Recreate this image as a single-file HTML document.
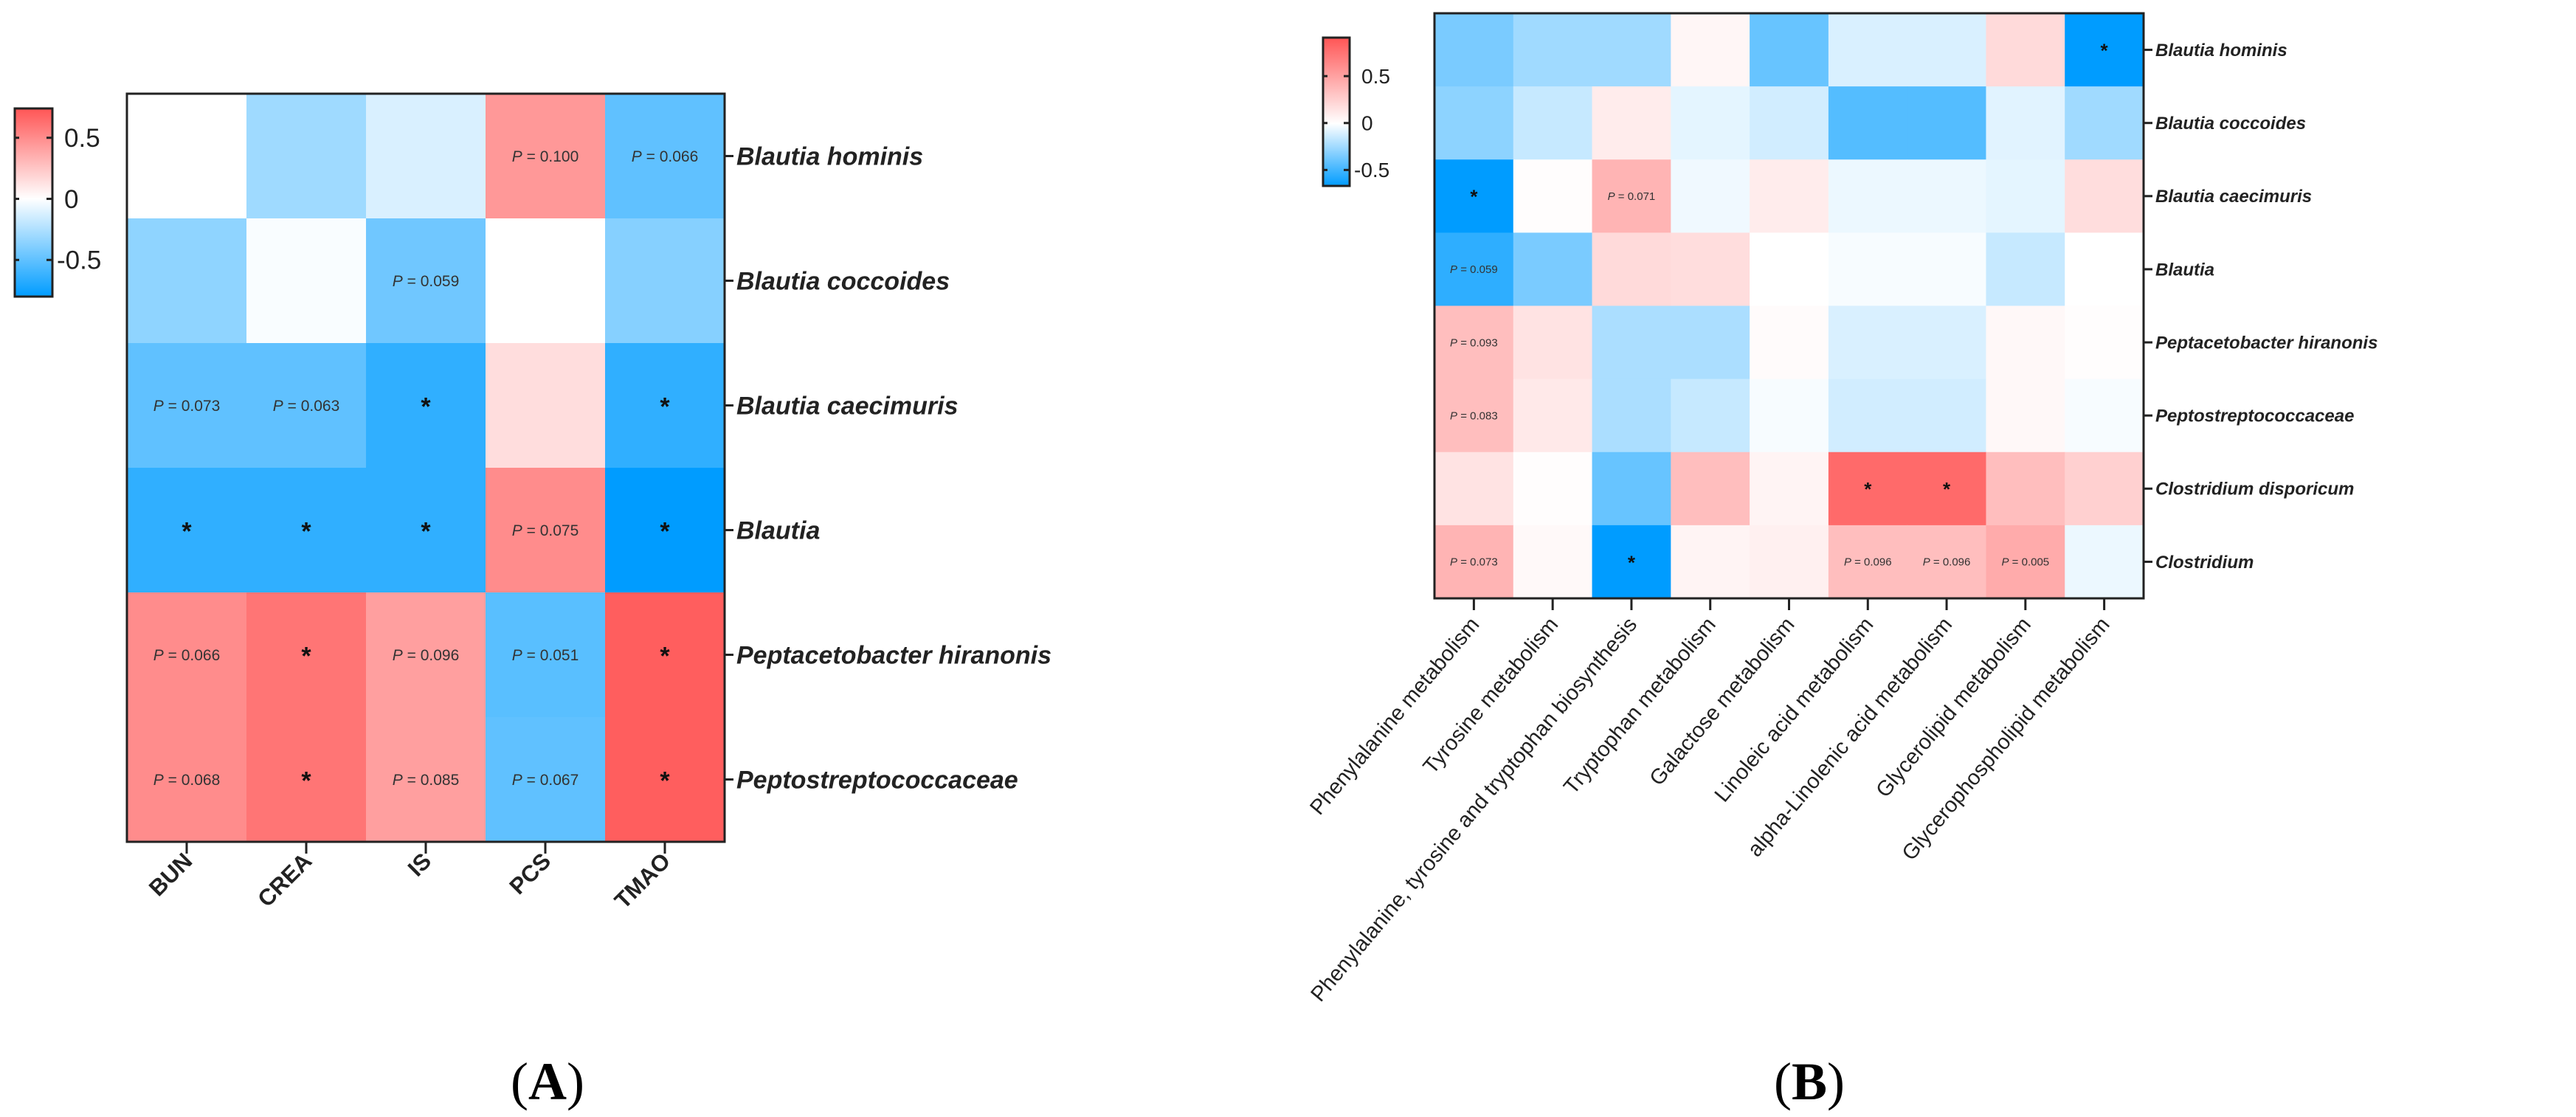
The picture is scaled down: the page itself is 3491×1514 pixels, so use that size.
<!DOCTYPE html>
<html><head><meta charset="utf-8"><style>
html,body{margin:0;padding:0;background:#fff;}
svg{display:block;}
text{font-family:"Liberation Sans",Arial,sans-serif;}
</style></head><body>
<svg id="fig" width="3491" height="1514" viewBox="0 0 3491 1514" xmlns="http://www.w3.org/2000/svg">
<defs>
<linearGradient id="gA" x1="0" y1="1" x2="0" y2="0">
<stop offset="0" stop-color="#009cff"/><stop offset="0.52" stop-color="#ffffff"/><stop offset="1" stop-color="#ff5555"/>
</linearGradient>
<linearGradient id="gB" x1="0" y1="1" x2="0" y2="0">
<stop offset="0" stop-color="#009cff"/><stop offset="0.42" stop-color="#ffffff"/><stop offset="1" stop-color="#ff5555"/>
</linearGradient>
</defs>
<g id="panelA"></g>
<g id="panelB"></g>
<text x="742" y="1490" font-size="72" text-anchor="middle" style="font-family:'Liberation Serif',serif">(<tspan font-weight="bold">A</tspan>)</text>
<text x="2452" y="1490" font-size="72" text-anchor="middle" style="font-family:'Liberation Serif',serif">(<tspan font-weight="bold">B</tspan>)</text>
</svg>
<script>
const aCols = ["BUN","CREA","IS","PCS","TMAO"];
const aRows = ["Blautia hominis","Blautia coccoides","Blautia caecimuris","Blautia","Peptacetobacter hiranonis","Peptostreptococcaceae"];
const aVals = [
 [0,-0.3,-0.12,0.45,-0.5],
 [-0.35,-0.02,-0.45,0,-0.38],
 [-0.5,-0.5,-0.65,0.15,-0.65],
 [-0.65,-0.65,-0.65,0.5,-0.8],
 [0.5,0.6,0.42,-0.52,0.7],
 [0.5,0.6,0.42,-0.5,0.7]];
const aNotes = [
 ["","","","P = 0.100","P = 0.066"],
 ["","","P = 0.059","",""],
 ["P = 0.073","P = 0.063","*","","*"],
 ["*","*","*","P = 0.075","*"],
 ["P = 0.066","*","P = 0.096","P = 0.051","*"],
 ["P = 0.068","*","P = 0.085","P = 0.067","*"]];
const aTicks = [0.5,0,-0.5];

const bCols = ["Phenylalanine metabolism","Tyrosine metabolism","Phenylalanine, tyrosine and tryptophan biosynthesis","Tryptophan metabolism","Galactose metabolism","Linoleic acid metabolism","alpha-Linolenic acid metabolism","Glycerolipid metabolism","Glycerophospholipid metabolism"];
const bRows = ["Blautia hominis","Blautia coccoides","Blautia caecimuris","Blautia","Peptacetobacter hiranonis","Peptostreptococcaceae","Clostridium disporicum","Clostridium"];
const bVals = [
 [-0.35,-0.25,-0.25,0.05,-0.4,-0.1,-0.1,0.2,-0.67],
 [-0.3,-0.15,0.1,-0.07,-0.12,-0.45,-0.45,-0.08,-0.25],
 [-0.67,0.01,0.4,-0.04,0.1,-0.05,-0.05,-0.07,0.18],
 [-0.55,-0.35,0.2,0.18,0,-0.02,-0.02,-0.15,0],
 [0.35,0.15,-0.22,-0.22,0.02,-0.1,-0.1,0.04,0.01],
 [0.35,0.12,-0.22,-0.15,-0.02,-0.12,-0.12,0.04,-0.02],
 [0.15,0.01,-0.4,0.35,0.06,0.8,0.8,0.35,0.25],
 [0.4,0.03,-0.67,0.06,0.08,0.35,0.35,0.45,-0.05]];
const bNotes = [
 ["","","","","","","","","*"],
 ["","","","","","","","",""],
 ["*","","P = 0.071","","","","","",""],
 ["P = 0.059","","","","","","","",""],
 ["P = 0.093","","","","","","","",""],
 ["P = 0.083","","","","","","","",""],
 ["","","","","","*","*","",""],
 ["P = 0.073","","*","","","P = 0.096","P = 0.096","P = 0.005",""]];
const bTicks = [0.5,0,-0.5];

const NS="http://www.w3.org/2000/svg";
function mk(tag,attrs,parent,txt){const e=document.createElementNS(NS,tag);for(const k in attrs)e.setAttribute(k,attrs[k]);if(txt!==undefined)e.textContent=txt;parent.appendChild(e);return e;}
function mix(a,b,t){return [0,1,2].map(i=>Math.round(a[i]+(b[i]-a[i])*t));}
function color(v,vmin,vmax){const W=[255,255,255],R=[255,85,85],B=[0,156,255];let c;
 if(v>=0)c=mix(W,R,Math.min(1,v/vmax));else c=mix(W,B,Math.min(1,v/vmin));return `rgb(${c[0]},${c[1]},${c[2]})`;}

function heatmap(g,cfg){
 const {x0,y0,x1,y1,cols,rows,vals,notes,vmin,vmax,noteSize,starSize,rowFont,colFont,colBold,colAngle,colDy,cb,ticks,grad,tickFont}=cfg;
 const cw=(x1-x0)/cols.length, rh=(y1-y0)/rows.length;
 const xs=i=>x0+i*cw, ys=j=>y0+j*rh;
 rows.forEach((r,j)=>cols.forEach((c,i)=>{
   const rect=mk('rect',{x:xs(i),y:ys(j),width:cw+0.5,height:rh+0.5,fill:color(vals[j][i],vmin,vmax)},g);
   
   
   const n=notes[j][i];
   if(n){
     const isStar=n==='*';
     const t=mk('text',{x:xs(i)+cw/2,y:ys(j)+rh/2+(isStar?starSize*0.38:noteSize*0.35),'text-anchor':'middle','font-size':isStar?starSize:noteSize,fill:isStar?'#111':'#333','font-weight':isStar?'bold':'normal'},g);
     
     
     if(isStar)t.textContent='*';else{mk('tspan',{'font-style':'italic'},t,'P');t.appendChild(document.createTextNode(n.slice(1)));}
   }
 }));
 const fr=mk('rect',{x:x0,y:y0,width:x1-x0,height:y1-y0,fill:'none',stroke:'#222','stroke-width':3},g);
 
 
 rows.forEach((r,j)=>{
   const y=ys(j)+rh/2;
   mk('line',{x1:x1,x2:x1+12,y1:y,y2:y,stroke:'#222','stroke-width':3},g);
   const t=mk('text',{x:x1+16,y:y+rowFont*0.35,'font-size':rowFont,'font-weight':'bold','font-style':'italic',fill:'#222'},g,r);
   
   
 });
 cols.forEach((c,i)=>{
   const x=xs(i)+cw/2;
   mk('line',{x1:x,x2:x,y1:y1,y2:y1+16,stroke:'#222','stroke-width':3},g);
   const ax=x+colFont*0.3, ay=y1+colDy;
   const t=mk('text',{x:ax,y:ay,'font-size':colFont,'font-weight':colBold?'bold':'normal','text-anchor':'end',fill:'#222',transform:`rotate(${colAngle} ${ax} ${ay})`},g,c);
   
   
 });
 const cr=mk('rect',{x:cb.x,y:cb.y0,width:cb.w,height:cb.y1-cb.y0,fill:`url(#${grad})`,stroke:'#222','stroke-width':3},g);
 
 
 const cy=v=>cb.y1-(v-vmin)/(vmax-vmin)*(cb.y1-cb.y0);
 ticks.forEach(v=>{
   const y=cy(v);
   mk('line',{x1:cb.x+cb.w-8,x2:cb.x+cb.w,y1:y,y2:y,stroke:'#222','stroke-width':3},g);
   mk('line',{x1:cb.x,x2:cb.x+6,y1:y,y2:y,stroke:'#222','stroke-width':3},g);
   const t=mk('text',{x:cb.x+cb.w+(v<0?6:16),y:y+tickFont*0.35,'font-size':tickFont,fill:'#222'},g,String(v));
   
   
 });
}
heatmap(document.getElementById('panelA'),{x0:172,y0:127,x1:982,y1:1141,cols:aCols,rows:aRows,vals:aVals,notes:aNotes,vmin:-0.8,vmax:0.74,noteSize:21,starSize:34,rowFont:34,colFont:31,colBold:true,colAngle:-45,colDy:28,cb:{x:20,w:51,y0:147,y1:402},ticks:aTicks,grad:'gA',tickFont:35});
heatmap(document.getElementById('panelB'),{x0:1944,y0:18,x1:2905,y1:811,cols:bCols,rows:bRows,vals:bVals,notes:bNotes,vmin:-0.67,vmax:0.91,noteSize:15,starSize:26,rowFont:24,colFont:29,colBold:false,colAngle:-50,colDy:36,cb:{x:1793,w:36,y0:51,y1:252},ticks:bTicks,grad:'gB',tickFont:28});
</script>
</body></html>
